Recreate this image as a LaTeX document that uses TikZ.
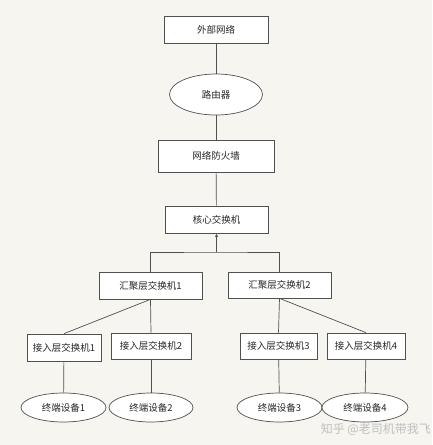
\documentclass[tikz,border=0pt]{standalone}
\usepackage{fontspec}
\setmainfont{Noto Sans CJK SC}
\usetikzlibrary{arrows.meta,shapes.geometric}
\definecolor{bgc}{HTML}{F7F5F0}
\definecolor{lnc}{HTML}{505050}
\begin{document}
\begin{tikzpicture}[x=1pt,y=-1pt,
  every node/.style={font=\fontsize{9.5}{11}\selectfont, text=black!85, inner sep=0pt},
  boxn/.style={draw=lnc, line width=0.7pt, fill=white, rectangle},
  ell/.style={draw=lnc, line width=0.7pt, fill=white, ellipse},
  conn/.style={draw=lnc, line width=0.7pt}]
\fill[bgc] (0,0) rectangle (432,445);
\useasboundingbox (0,0) rectangle (432,445);
\node[boxn, minimum width=104pt, minimum height=27pt] (ext) at (216,30) {外部网络};
\node[ell, minimum width=93pt, minimum height=41pt] (rt) at (216,94.5) {路由器};
\node[boxn, minimum width=116pt, minimum height=32pt] (fw) at (216,156) {网络防火墙};
\node[boxn, minimum width=103pt, minimum height=27pt] (core) at (216.5,219.5) {核心交换机};
\node[boxn, minimum width=103pt, minimum height=27pt] (agg1) at (150.5,285.5) {汇聚层交换机1};
\node[boxn, minimum width=103pt, minimum height=26pt] (agg2) at (279.5,285) {汇聚层交换机2};
\node[boxn, minimum width=74pt, minimum height=27pt] (acc1) at (64,347.5) {接入层交换机1};
\node[boxn, minimum width=80pt, minimum height=26pt] (acc2) at (151,346) {接入层交换机2};
\node[boxn, minimum width=77pt, minimum height=26pt] (acc3) at (278.5,346) {接入层交换机3};
\node[boxn, minimum width=78pt, minimum height=26pt] (acc4) at (366,346) {接入层交换机4};
\node[ell, minimum width=85pt, minimum height=29pt] (t1) at (63.5,407.5) {终端设备1};
\node[ell, minimum width=84pt, minimum height=29pt] (t2) at (151,407.5) {终端设备2};
\node[ell, minimum width=85pt, minimum height=29pt] (t3) at (279.5,407.5) {终端设备3};
\node[ell, minimum width=86pt, minimum height=29pt] (t4) at (365,407.5) {终端设备4};
\coordinate (jn) at (216.5,252);
\draw[conn] (ext) -- (rt);
\draw[conn] (rt) -- (fw);
\draw[conn] (fw) -- (core);
\draw[conn,-{Latex[length=3.5pt,width=3pt]}] (jn) -- (core.south);
\draw[conn] (agg1.north) |- (jn) -| (agg2.north);
\draw[conn] (agg1.south) -- (acc1.north);
\draw[conn] (agg1.south) -- (acc2.north);
\draw[conn] (agg2.south) -- (acc3.north);
\draw[conn] (agg2.south) -- (acc4.north);
\draw[conn] (acc1) -- (t1);
\draw[conn] (acc2) -- (t2);
\draw[conn] (acc3) -- (t3);
\draw[conn] (acc4) -- (t4);
\node[font=\fontsize{12}{14}\selectfont, text=black!25, anchor=east] (wm) at (431,429) {知乎 @老司机带我飞};
\end{tikzpicture}
\end{document}
